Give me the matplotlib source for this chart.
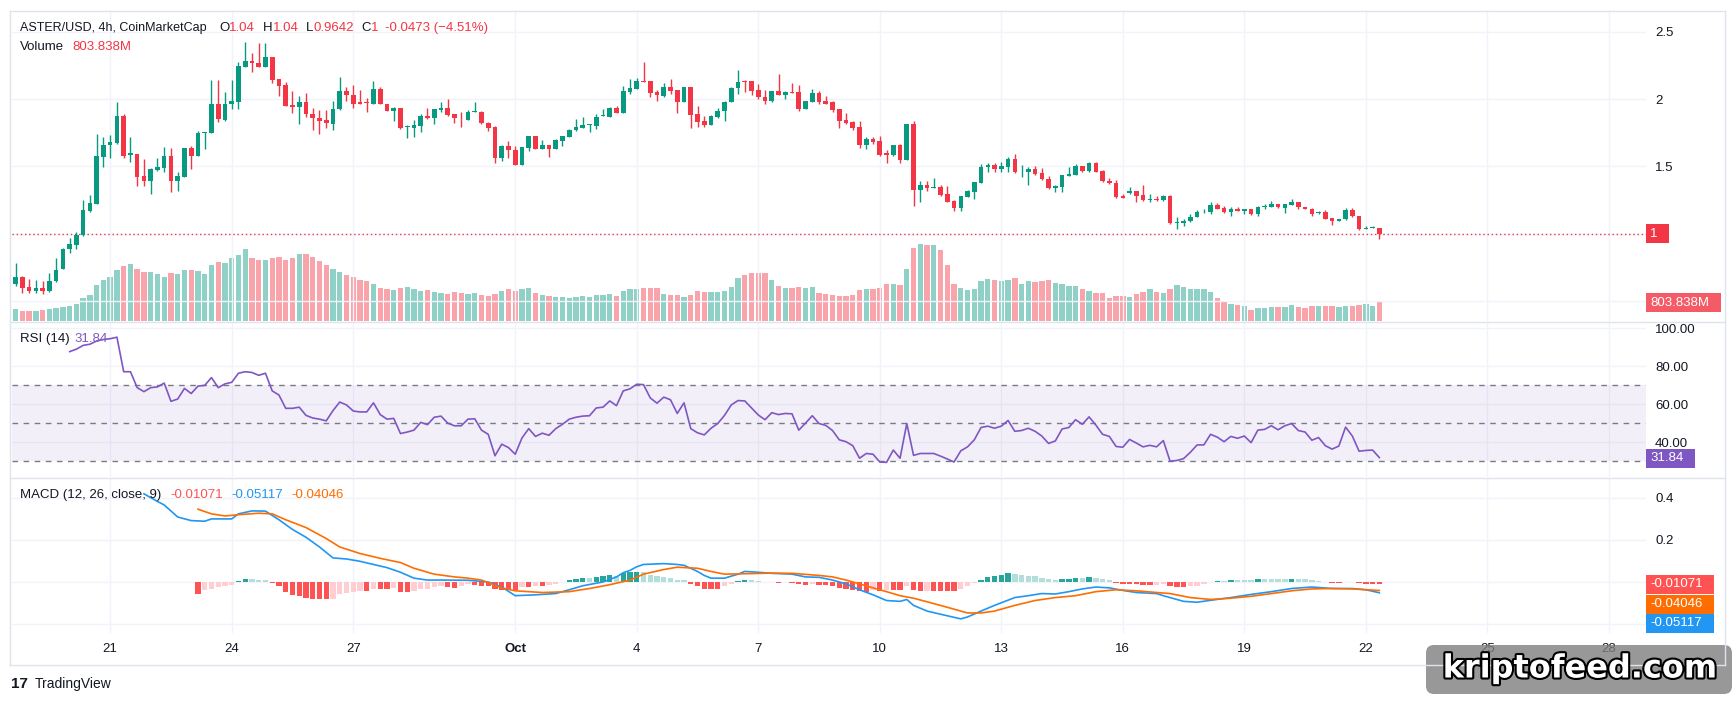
import matplotlib
matplotlib.use("Agg")
import matplotlib.pyplot as plt
import matplotlib.patheffects as pe
from matplotlib.patches import Rectangle, FancyBboxPatch
from matplotlib.lines import Line2D
from matplotlib.transforms import IdentityTransform
import numpy as np
import pandas as pd

# ---- data (4h candles, ASTER/USD) ----
start_time = "2025-09-18 16:00"

opens = [0.625, 0.680, 0.608, 0.573, 0.599, 0.576, 0.648, 0.741, 0.885, 0.919,
         0.989, 1.170, 1.225, 1.571, 1.663, 1.675, 1.871, 1.583, 1.591, 1.427,
         1.395, 1.473, 1.490, 1.577, 1.389, 1.421, 1.640, 1.580, 1.747, 1.750,
         1.966, 1.845, 1.961, 1.981, 2.240, 2.284, 2.266, 2.240, 2.310, 2.148,
         2.105, 1.958, 1.940, 1.978, 1.891, 1.860, 1.845, 1.816, 1.923, 2.059,
         2.027, 1.975, 1.975, 1.961, 2.076, 1.961, 1.914, 1.935, 1.790, 1.787,
         1.802, 1.874, 1.857, 1.920, 1.937, 1.888, 1.862, 1.848, 1.906, 1.906,
         1.825, 1.796, 1.562, 1.655, 1.623, 1.513, 1.640, 1.727, 1.632, 1.661,
         1.632, 1.692, 1.721, 1.767, 1.787, 1.808, 1.802, 1.874, 1.868, 1.935,
         1.897, 2.053, 2.076, 2.134, 2.134, 2.053, 2.024, 2.090, 2.067, 1.981,
         2.090, 1.886, 1.837, 1.811, 1.868, 1.909, 1.981, 2.079, 2.134, 2.131,
         2.067, 2.015, 1.989, 2.059, 2.033, 2.053, 2.053, 1.926, 1.981, 2.044,
         1.986, 1.975, 1.926, 1.845, 1.831, 1.796, 1.661, 1.704, 1.689, 1.597,
         1.583, 1.658, 1.548, 1.816, 1.329, 1.361, 1.343, 1.349, 1.297, 1.245,
         1.193, 1.274, 1.314, 1.381, 1.493, 1.508, 1.482, 1.499, 1.557, 1.456,
         1.456, 1.482, 1.453, 1.410, 1.337, 1.349, 1.433, 1.438, 1.505, 1.467,
         1.525, 1.467, 1.395, 1.378, 1.283, 1.303, 1.317, 1.288, 1.248, 1.260,
         1.248, 1.283, 1.078, 1.078, 1.092, 1.124, 1.159, 1.159, 1.213, 1.190,
         1.159, 1.185, 1.173, 1.185, 1.144, 1.199, 1.202, 1.222, 1.193, 1.216,
         1.234, 1.199, 1.188, 1.153, 1.162, 1.118, 1.095, 1.107, 1.179, 1.133,
         1.040, 1.043, 1.0473]
highs = [0.784, 0.690, 0.666, 0.657, 0.654, 0.712, 0.821, 0.899, 0.971, 1.014,
         1.254, 1.288, 1.741, 1.721, 1.733, 1.978, 1.886, 1.718, 1.595, 1.557,
         1.490, 1.562, 1.646, 1.635, 1.456, 1.640, 1.655, 1.764, 1.756, 2.139,
         2.139, 2.053, 2.139, 2.275, 2.422, 2.341, 2.416, 2.416, 2.312, 2.150,
         2.125, 2.059, 2.021, 2.044, 1.932, 1.917, 1.917, 1.987, 2.160, 2.090,
         2.108, 2.064, 2.010, 2.134, 2.090, 1.963, 1.940, 1.937, 1.808, 1.842,
         1.886, 1.935, 1.925, 1.981, 1.998, 1.890, 1.906, 1.920, 1.975, 1.908,
         1.827, 1.802, 1.663, 1.689, 1.649, 1.648, 1.729, 1.729, 1.698, 1.663,
         1.707, 1.729, 1.779, 1.851, 1.868, 1.815, 1.886, 1.923, 1.940, 1.949,
         2.096, 2.148, 2.154, 2.275, 2.136, 2.067, 2.119, 2.148, 2.069, 2.092,
         2.092, 1.946, 1.874, 1.883, 1.935, 1.989, 2.090, 2.217, 2.145, 2.136,
         2.110, 2.067, 2.061, 2.188, 2.061, 2.119, 2.108, 1.988, 2.076, 2.059,
         2.024, 1.984, 1.928, 1.900, 1.839, 1.837, 1.715, 1.721, 1.727, 1.620,
         1.663, 1.669, 1.818, 1.837, 1.395, 1.389, 1.415, 1.366, 1.352, 1.254,
         1.282, 1.326, 1.388, 1.519, 1.525, 1.525, 1.531, 1.571, 1.594, 1.508,
         1.496, 1.505, 1.490, 1.427, 1.366, 1.440, 1.496, 1.522, 1.507, 1.534,
         1.534, 1.473, 1.415, 1.401, 1.297, 1.346, 1.319, 1.363, 1.297, 1.283,
         1.288, 1.285, 1.127, 1.110, 1.144, 1.179, 1.185, 1.237, 1.231, 1.208,
         1.196, 1.199, 1.187, 1.187, 1.208, 1.225, 1.245, 1.224, 1.224, 1.260,
         1.236, 1.201, 1.193, 1.170, 1.176, 1.120, 1.109, 1.193, 1.193, 1.135,
         1.055, 1.058, 1.0473]
lows = [0.611, 0.559, 0.559, 0.559, 0.553, 0.570, 0.645, 0.738, 0.862, 0.885,
        0.985, 1.165, 1.220, 1.496, 1.562, 1.670, 1.560, 1.534, 1.352, 1.352,
        1.294, 1.470, 1.462, 1.309, 1.317, 1.420, 1.479, 1.580, 1.629, 1.745,
        1.828, 1.840, 1.923, 1.923, 2.235, 2.203, 2.235, 2.235, 2.119, 2.024,
        1.945, 1.900, 1.816, 1.865, 1.770, 1.744, 1.787, 1.767, 1.920, 1.989,
        1.937, 1.960, 1.906, 1.960, 1.960, 1.908, 1.837, 1.780, 1.710, 1.718,
        1.759, 1.855, 1.813, 1.906, 1.874, 1.822, 1.793, 1.846, 1.904, 1.817,
        1.764, 1.525, 1.542, 1.562, 1.511, 1.511, 1.617, 1.630, 1.630, 1.571,
        1.630, 1.655, 1.719, 1.765, 1.785, 1.759, 1.779, 1.872, 1.866, 1.898,
        1.895, 2.041, 2.074, 2.123, 2.018, 1.989, 2.018, 2.041, 1.900, 1.979,
        1.782, 1.796, 1.793, 1.809, 1.857, 1.837, 1.979, 2.038, 2.056, 2.027,
        2.001, 1.966, 1.975, 2.027, 2.001, 2.045, 1.909, 1.924, 1.979, 1.966,
        1.961, 1.906, 1.787, 1.813, 1.773, 1.640, 1.626, 1.669, 1.580, 1.528,
        1.581, 1.528, 1.546, 1.208, 1.237, 1.317, 1.341, 1.283, 1.237, 1.170,
        1.170, 1.272, 1.260, 1.379, 1.462, 1.456, 1.462, 1.462, 1.454, 1.424,
        1.366, 1.438, 1.402, 1.335, 1.314, 1.314, 1.431, 1.436, 1.462, 1.456,
        1.460, 1.387, 1.373, 1.265, 1.266, 1.297, 1.234, 1.246, 1.237, 1.246,
        1.246, 1.076, 1.038, 1.058, 1.090, 1.122, 1.157, 1.144, 1.186, 1.157,
        1.136, 1.171, 1.150, 1.142, 1.130, 1.185, 1.200, 1.194, 1.153, 1.214,
        1.182, 1.186, 1.130, 1.151, 1.110, 1.069, 1.093, 1.105, 1.128, 1.032,
        1.038, 1.041, 0.9642]
closes = [0.683, 0.602, 0.573, 0.599, 0.576, 0.651, 0.732, 0.888, 0.925, 0.994,
          1.179, 1.231, 1.577, 1.663, 1.681, 1.871, 1.577, 1.600, 1.424, 1.395,
          1.482, 1.496, 1.577, 1.389, 1.430, 1.635, 1.580, 1.750, 1.753, 1.966,
          1.851, 1.966, 1.986, 2.246, 2.284, 2.269, 2.240, 2.310, 2.145, 2.096,
          1.949, 1.940, 1.978, 1.886, 1.857, 1.839, 1.819, 1.923, 2.059, 2.027,
          1.963, 1.963, 1.969, 2.076, 1.961, 1.911, 1.932, 1.782, 1.799, 1.808,
          1.874, 1.857, 1.923, 1.935, 1.883, 1.857, 1.857, 1.906, 1.914, 1.819,
          1.787, 1.562, 1.655, 1.620, 1.513, 1.646, 1.727, 1.632, 1.661, 1.632,
          1.698, 1.727, 1.767, 1.793, 1.811, 1.813, 1.868, 1.880, 1.935, 1.900,
          2.059, 2.079, 2.134, 2.125, 2.047, 2.030, 2.090, 2.061, 1.981, 2.090,
          1.880, 1.831, 1.811, 1.874, 1.911, 1.981, 2.082, 2.128, 2.125, 2.061,
          2.012, 1.989, 2.059, 2.033, 2.053, 2.047, 1.926, 1.986, 2.044, 1.981,
          1.963, 1.920, 1.839, 1.822, 1.787, 1.661, 1.701, 1.681, 1.586, 1.583,
          1.658, 1.548, 1.816, 1.329, 1.366, 1.343, 1.349, 1.288, 1.239, 1.193,
          1.280, 1.317, 1.386, 1.496, 1.511, 1.482, 1.505, 1.557, 1.456, 1.462,
          1.485, 1.444, 1.404, 1.337, 1.352, 1.438, 1.447, 1.505, 1.467, 1.525,
          1.462, 1.389, 1.375, 1.274, 1.268, 1.317, 1.283, 1.248, 1.260, 1.248,
          1.283, 1.078, 1.087, 1.095, 1.127, 1.165, 1.165, 1.213, 1.188, 1.159,
          1.185, 1.173, 1.185, 1.144, 1.199, 1.208, 1.222, 1.196, 1.222, 1.234,
          1.196, 1.188, 1.150, 1.162, 1.112, 1.098, 1.107, 1.179, 1.130, 1.040,
          1.046, 1.0473, 1.000]
volume_m = [515, 434, 434, 434, 482, 515, 563, 595, 643, 724,
            949, 1093, 1512, 1721, 1833, 2123, 2300, 2380, 2171, 2042,
            2042, 1962, 1849, 2010, 1962, 2123, 2123, 2074, 1962, 2332,
            2460, 2412, 2621, 2750, 2975, 2621, 2541, 2541, 2621, 2669,
            2541, 2621, 2798, 2798, 2669, 2508, 2332, 2171, 2058, 1930,
            1817, 1721, 1688, 1528, 1367, 1335, 1302, 1367, 1431, 1351,
            1254, 1302, 1206, 1174, 1142, 1206, 1174, 1142, 1174, 1077,
            1045, 1126, 1254, 1319, 1254, 1319, 1367, 1174, 1093, 1061,
            1013, 1013, 949, 1013, 1061, 1029, 1077, 1093, 1142, 1061,
            1238, 1319, 1319, 1399, 1399, 1367, 1142, 1077, 1110, 1029,
            1110, 1254, 1222, 1222, 1222, 1254, 1431, 1801, 1930, 2010,
            2010, 2010, 1721, 1463, 1383, 1383, 1431, 1383, 1431, 1174,
            1142, 1093, 1061, 1061, 1093, 1302, 1351, 1351, 1383, 1544,
            1544, 1512, 2171, 3039, 3200, 3168, 3168, 2959, 2332, 1544,
            1383, 1302, 1351, 1672, 1753, 1721, 1672, 1721, 1801, 1544,
            1672, 1640, 1672, 1721, 1592, 1544, 1463, 1463, 1351, 1254,
            1174, 1174, 965, 1061, 1061, 1013, 1142, 1222, 1351, 1222,
            1174, 1351, 1512, 1431, 1351, 1351, 1351, 1222, 965, 804,
            724, 675, 643, 482, 563, 563, 595, 595, 595, 675,
            595, 563, 643, 643, 643, 643, 595, 643, 643, 675,
            724, 643, 803.838]

rsi_first = 8
rsi = [87.7, 89.0, 91.0, 91.6, 93.3, 94.1, 94.5, 95.3, 77.1, 77.1,
       68.7, 66.6, 68.7, 69.1, 71.1, 61.5, 62.7, 68.3, 65.6, 69.5,
       69.9, 74.0, 68.7, 70.7, 71.5, 76.3, 77.1, 76.7, 75.2, 76.3,
       67.0, 64.8, 57.8, 57.8, 58.4, 54.1, 52.7, 52.1, 51.2, 56.6,
       61.1, 59.6, 56.4, 55.9, 55.9, 60.7, 54.5, 52.1, 52.5, 44.5,
       45.3, 46.3, 50.4, 49.2, 53.1, 53.7, 50.0, 48.6, 48.6, 52.1,
       52.3, 46.3, 44.1, 32.8, 38.9, 37.1, 33.6, 42.2, 47.1, 43.0,
       44.7, 43.6, 47.1, 49.4, 52.1, 53.1, 53.7, 53.9, 58.0, 58.4,
       61.7, 59.2, 67.0, 68.1, 70.5, 70.3, 63.3, 60.5, 63.7, 62.3,
       55.1, 60.7, 47.1, 44.9, 43.8, 47.3, 49.8, 54.1, 59.6, 61.9,
       61.7, 58.0, 54.3, 51.8, 55.5, 54.5, 55.1, 54.9, 46.3, 50.0,
       53.9, 49.8, 48.8, 46.1, 41.2, 40.2, 38.1, 31.5, 34.0, 33.6,
       29.5, 29.3, 35.8, 31.5, 49.8, 33.0, 34.0, 34.0, 34.0, 32.6,
       31.1, 29.5, 35.4, 37.5, 41.2, 47.7, 48.4, 47.3, 48.4, 51.4,
       45.7, 46.1, 47.3, 45.7, 43.2, 39.3, 40.6, 46.9, 47.7, 51.8,
       49.4, 53.3, 49.0, 44.1, 43.0, 37.7, 37.3, 41.4, 39.5, 37.5,
       38.3, 37.5, 40.8, 29.9, 30.3, 31.3, 34.6, 38.5, 38.5, 44.1,
       42.6, 40.2, 43.0, 42.0, 43.2, 39.7, 46.3, 46.7, 48.6, 46.5,
       48.6, 49.8, 46.1, 45.3, 41.0, 42.4, 38.1, 36.3, 37.9, 47.9,
       43.2, 35.2, 35.6, 35.8, 31.84]

hist_first = 27
macd_hist = [-0.055, -0.040, -0.031, -0.022, -0.018, -0.013, 0.004, 0.015, 0.015, 0.011,
             0.011, -0.007, -0.018, -0.046, -0.061, -0.065, -0.077, -0.083, -0.083, -0.083,
             -0.079, -0.055, -0.050, -0.046, -0.042, -0.042, -0.031, -0.035, -0.035, -0.028,
             -0.046, -0.046, -0.042, -0.033, -0.031, -0.022, -0.018, -0.024, -0.028, -0.018,
             -0.009, -0.013, -0.018, -0.018, -0.031, -0.037, -0.040, -0.040, -0.022, -0.022,
             -0.018, -0.018, -0.015, -0.009, 0.002, 0.009, 0.013, 0.018, 0.018, 0.022,
             0.026, 0.031, 0.029, 0.044, 0.046, 0.048, 0.046, 0.031, 0.028, 0.024,
             0.020, 0.011, 0.011, -0.011, -0.018, -0.031, -0.031, -0.031, -0.018, -0.009,
             0.006, 0.011, 0.009, 0.004, -0.002, -0.002, -0.004, -0.002, -0.007, -0.009,
             -0.013, -0.011, -0.013, -0.013, -0.018, -0.028, -0.031, -0.037, -0.042, -0.046,
             -0.040, -0.044, -0.040, -0.040, -0.040, -0.018, -0.037, -0.044, -0.042, -0.042,
             -0.042, -0.042, -0.042, -0.031, -0.018, -0.007, 0.009, 0.024, 0.028, 0.031,
             0.042, 0.037, 0.031, 0.029, 0.026, 0.020, 0.013, 0.009, 0.013, 0.015,
             0.020, 0.020, 0.022, 0.018, 0.013, 0.009, -0.007, -0.009, -0.009, -0.011,
             -0.015, -0.015, -0.013, -0.011, -0.020, -0.026, -0.026, -0.020, -0.017, -0.011,
             0.001, 0.004, 0.004, 0.009, 0.009, 0.009, 0.009, 0.015, 0.015, 0.015,
             0.015, 0.015, 0.016, 0.015, 0.013, 0.009, 0.004, 0.002, -0.004, -0.005,
             0.002, 0.001, -0.007, -0.009, -0.009, -0.01071]

macd_k = [19, 21, 22, 24, 26, 28, 29, 32, 33, 35, 37, 39, 41, 43, 45, 47, 49, 51, 53, 55,
          57, 59, 61, 64, 67, 70, 72, 74, 77, 80, 82, 84, 87, 89, 90, 91, 92, 93, 96, 98,
          99, 101, 102, 103, 105, 107, 108, 110, 112, 115, 117, 119, 121, 123, 125, 127,
          129, 131, 132, 133, 135, 137, 140, 141, 143, 145, 148, 150, 152, 154, 156, 158,
          160, 162, 164, 166, 169, 170, 173, 175, 177, 180, 183, 186, 189, 192, 195, 198,
          200, 202]
macd_line = [0.418, 0.382, 0.365, 0.308, 0.291, 0.288, 0.299, 0.299, 0.323, 0.337, 0.336,
             0.295, 0.249, 0.212, 0.166, 0.114, 0.109, 0.098, 0.083, 0.068, 0.046, 0.018,
             0.009, 0.009, 0.008, 0.000, -0.024, -0.065, -0.061, -0.055, -0.037, -0.018,
             0.000, 0.024, 0.044, 0.055, 0.072, 0.083, 0.087, 0.083, 0.079, 0.050, 0.031,
             0.018, 0.018, 0.037, 0.050, 0.046, 0.041, 0.037, 0.024, 0.022, 0.009, -0.009,
             -0.037, -0.061, -0.088, -0.092, -0.083, -0.111, -0.138, -0.153, -0.175, -0.166,
             -0.138, -0.111, -0.074, -0.065, -0.055, -0.057, -0.046, -0.033, -0.024, -0.028,
             -0.040, -0.050, -0.055, -0.065, -0.092, -0.096, -0.087, -0.074, -0.059, -0.046,
             -0.031, -0.024, -0.031, -0.031, -0.037, -0.05117]
signal_k = [27, 29, 31, 33, 36, 38, 40, 43, 46, 48, 51, 54, 57, 59, 62, 65, 67, 69, 72, 74,
            78, 82, 85, 88, 91, 93, 96, 98, 101, 103, 105, 108, 112, 115, 119, 121, 123,
            125, 127, 129, 131, 133, 135, 138, 141, 143, 145, 148, 151, 154, 157, 160, 163,
            166, 169, 171, 174, 177, 180, 183, 186, 189, 192, 195, 198, 202]
signal_line = [0.345, 0.323, 0.313, 0.319, 0.326, 0.323, 0.295, 0.258, 0.206, 0.166, 0.135,
               0.112, 0.092, 0.065, 0.037, 0.024, 0.018, 0.009, -0.028, -0.042, -0.050,
               -0.046, -0.031, -0.013, 0.009, 0.037, 0.059, 0.070, 0.065, 0.050, 0.037,
               0.039, 0.042, 0.041, 0.031, 0.024, 0.009, -0.009, -0.028, -0.046, -0.065,
               -0.077, -0.094, -0.120, -0.147, -0.147, -0.138, -0.111, -0.088, -0.074,
               -0.065, -0.046, -0.037, -0.042, -0.050, -0.055, -0.074, -0.083, -0.077,
               -0.068, -0.055, -0.042, -0.033, -0.031, -0.033, -0.04046]

day_ticks = ["2025-09-21", "2025-09-24", "2025-09-27", "2025-10-01", "2025-10-04",
             "2025-10-07", "2025-10-10", "2025-10-13", "2025-10-16", "2025-10-19",
             "2025-10-22", "2025-10-25", "2025-10-28"]
day_labels = ["21", "24", "27", "Oct", "4", "7", "10", "13", "16", "19", "22", "25", "28"]

# ---- styling ----
GREEN, RED = "#089981", "#F23645"
GRID = "#F0F3FA"
BORDER = "#E0E3EB"
TXT = "#131722"
W, H = 1735, 704


def fx(x):
    return x / W


def fy(y):
    return 1 - y / H


plt.rcParams["font.family"] = ["Liberation Sans", "DejaVu Sans"]

t0 = pd.Timestamp(start_time)
tick_pos = [(pd.Timestamp(d) - t0) / pd.Timedelta("4h") for d in day_ticks]
x = np.arange(len(closes))

fig = plt.figure(figsize=(W / 100, H / 100), dpi=100)
fig.patch.set_facecolor("white")

X0, X1 = 11.5, 1646
XLIM = (-0.62, 241.5)


def add_pane(top, bottom, grid=True):
    ax = fig.add_axes([fx(X0), fy(bottom), (X1 - X0) / W, (bottom - top) / H])
    ax.set_xlim(*XLIM)
    for s in ax.spines.values():
        s.set_visible(False)
    ax.yaxis.tick_right()
    ax.tick_params(axis="both", length=0, labelsize=9.5, labelcolor=TXT, pad=6.5)
    ax.set_xticks(tick_pos)
    ax.set_xticklabels([])
    if grid:
        ax.grid(True, color=GRID, lw=1)
    ax.set_axisbelow(True)
    return ax


# price + volume pane
ax_v = add_pane(11.7, 321.4, grid=False)
ax_v.set_ylim(0, 12800)
ax_v.set_yticks([])
ax_v.set_xticks([])
ax_p = add_pane(11.7, 321.4)
ax_p.patch.set_visible(False)
ax_v.set_zorder(0)
ax_p.set_zorder(1)

up = np.array(closes) >= np.array(opens)
vol_col = np.where(up, GREEN, RED)
ax_v.bar(x, volume_m, width=0.8, color=vol_col, alpha=0.45, linewidth=0)

ax_p.set_ylim(0.351, 2.648)
ax_p.set_yticks([0.5, 1, 1.5, 2, 2.5])
ax_p.set_yticklabels(["", "", "1.5", "2", "2.5"])
ccol = np.where(up, GREEN, RED)
ax_p.vlines(x, lows, highs, colors=ccol, lw=1, zorder=3)
body_lo = np.minimum(opens, closes)
body_h = np.maximum(np.abs(np.array(closes) - np.array(opens)), 0.006)
ax_p.bar(x, body_h, bottom=body_lo, width=0.68, color=ccol, linewidth=0, zorder=4)
ax_p.axhline(closes[-1], color=RED, lw=1, ls=(0, (1, 2)), zorder=2)

# RSI pane
ax_r = add_pane(322.4, 477)
ax_r.set_ylim(21.6, 103.1)
ax_r.set_yticks([40, 60, 80, 100])
ax_r.set_yticklabels(["40.00", "60.00", "80.00", "100.00"])
ax_r.axhspan(30, 70, color="#7E57C2", alpha=0.09, lw=0)
for lvl in (70, 50, 30):
    ax_r.axhline(lvl, color="#787B86", lw=1, ls=(0, (4, 4)))
ax_r.plot(np.arange(rsi_first, rsi_first + len(rsi)), rsi, color="#7E57C2", lw=1.2)

# MACD pane
ax_m = add_pane(478, 633)
ax_m.set_ylim(-0.242, 0.493)
ax_m.set_yticks([-0.2, 0, 0.2, 0.4])
ax_m.set_yticklabels(["", "", "0.2", "0.4"])
hcols = []
prev = None
for h in macd_hist:
    if h >= 0:
        hcols.append("#26A69A" if prev is None or h > prev else "#B2DFDB")
    else:
        hcols.append("#FFCDD2" if prev is not None and h > prev else "#FF5252")
    prev = h
ax_m.bar(np.arange(hist_first, hist_first + len(macd_hist)), macd_hist, width=0.8,
         color=hcols, linewidth=0)
ax_m.plot(macd_k, macd_line, color="#2196F3", lw=1.2)
ax_m.plot(signal_k, signal_line, color="#FF6D00", lw=1.2)
ax_m.set_xticklabels(day_labels)
ax_m.tick_params(axis="x", pad=7, labelsize=9.5)
ax_m.get_xticklabels()[3].set_fontweight("bold")

# frame & separators
for y in (11.2, 322, 477.5, 665):
    fig.add_artist(Line2D([fx(10), fx(1725)], [fy(y), fy(y)], color=BORDER, lw=1))
for xx in (10, 1725):
    fig.add_artist(Line2D([fx(xx), fx(xx)], [fy(11.2), fy(665)], color=BORDER, lw=1))


def tag(y, text, color, right, h=19, alpha=1.0):
    fig.add_artist(Rectangle((fx(1646), fy(y + h / 2)), (right - 1646) / W, h / H,
                             color=color, alpha=alpha, lw=0))
    fig.text(fx(1650), fy(y), text, color="white", fontsize=9.5, va="center", ha="left")


tag(233.9, "1", RED, 1669)
tag(302.5, "803.838M", "#F45B66", 1721)
tag(458, "31.84", "#7E57C2", 1695)
tag(584, "-0.01071", "#FF5252", 1714)
tag(604, "-0.04046", "#FF6D00", 1714)
tag(623, "-0.05117", "#2196F3", 1714)


def label(xp, yp, text, color=TXT, size=9.5, **kw):
    fig.text(fx(xp), fy(yp), text, color=color, fontsize=size, va="center", ha="left", **kw)


# legend headers
label(19.9, 28.3, "ASTER/USD, 4h, CoinMarketCap", size=9.0)
label(219.3, 28.3, "O")
label(228.9, 28.3, "1.04", RED)
label(263.3, 28.3, "H")
label(272.5, 28.3, "1.04", RED)
label(306.2, 28.3, "L")
label(313.0, 28.3, "0.9642", RED)
label(361.6, 28.3, "C")
label(371.2, 28.3, "1", RED)
label(384.6, 28.3, "-0.0473 (\u22124.51%)", RED)
label(19.9, 47.3, "Volume")
label(72.7, 47.3, "803.838M", RED)
label(19.9, 339.3, "RSI (14)")
label(74.6, 339.3, "31.84", "#7E57C2")
label(19.9, 495, "MACD (12, 26, close, 9)")
label(170.3, 495, "-0.01071", "#FF5252")
label(231.5, 495, "-0.05117", "#2196F3")
label(290.9, 495, "-0.04046", "#FF6D00")

# footer logo
label(11, 684, "17", TXT, size=11, fontweight="bold")
label(35, 684, "TradingView", TXT, size=10)

# watermark
wm = FancyBboxPatch((1426 + 8, H - 694 + 8), 306 - 16, 49 - 16,
                    boxstyle="round,pad=8", transform=IdentityTransform(),
                    facecolor="#7F7F7F", edgecolor="none", alpha=0.8)
fig.add_artist(wm)
fig.text(fx(1580), fy(669), "kriptofeed.com", color="white", fontsize=23,
         fontweight="bold", family="DejaVu Sans", ha="center", va="center",
         path_effects=[pe.withStroke(linewidth=3, foreground="black")])

fig.savefig("out.png", dpi=100, facecolor="white")
